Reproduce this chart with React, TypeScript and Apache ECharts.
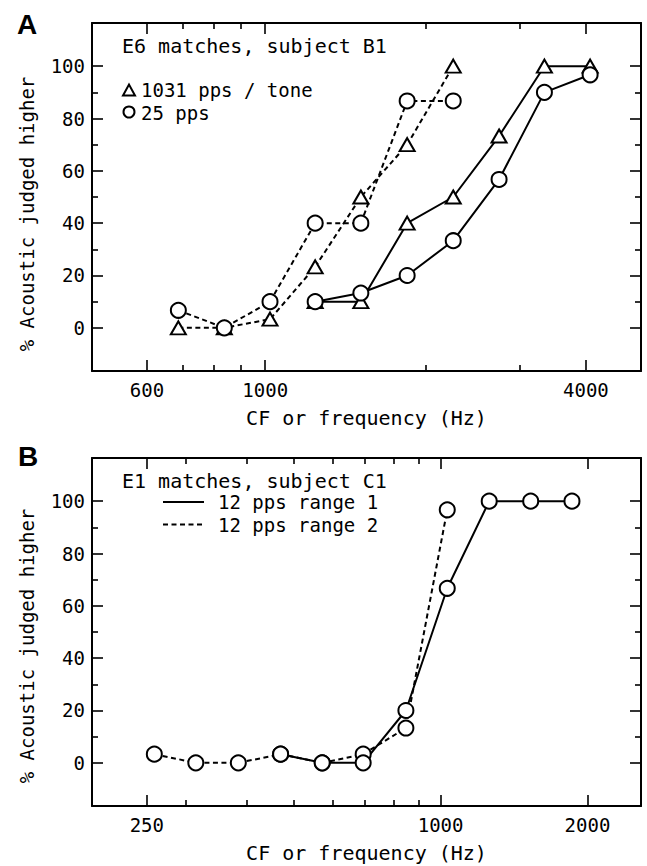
import React, { useEffect, useRef } from 'react';
import * as echarts from 'echarts';

// ---------- Panel A data (E6 matches, subject B1) ----------
const aDashedFreq = [687, 838, 1021, 1241, 1512, 1847, 2254];
const aTriDashedPct = [0, 0, 3.3, 23.3, 50, 70, 100];
const aCircDashedPct = [6.7, 0, 10, 40, 40, 86.7, 86.7];
const aSolidFreq = [1241, 1512, 1847, 2254, 2748, 3343, 4073];
const aTriSolidPct = [10, 10, 40, 50, 73.3, 100, 100];
const aCircSolidPct = [10, 13.3, 20, 33.3, 56.7, 90, 96.7];

// ---------- Panel B data (E1 matches, subject C1) ----------
const bRange1Freq = [470, 572, 694, 849, 1032, 1258, 1530, 1859];
const bRange1Pct = [3.3, 0, 0, 20, 66.7, 100, 100, 100];
const bRange2Freq = [259, 315, 385, 470, 572, 694, 849, 1032];
const bRange2Pct = [3.3, 0, 0, 3.3, 0, 3.3, 13.3, 96.7];

// ---------- Ticks ----------
const aMajorTicks = [600, 1000, 4000];
const aMinorTicks = [700, 800, 900, 2000, 3000];
const bMajorTicks = [250, 1000, 2000];
const bMinorTicks = [300, 400, 500, 600, 700, 800, 900];
const yMajorTicks = [0, 20, 40, 60, 80, 100];
const yMinorTicks = [10, 30, 50, 70, 90];

const aFreqRange = [473, 5075];
const bFreqRange = [193, 2575];
const yRange = [-16.5, 116.5];

const MONO = '"DejaVu Sans Mono", monospace';
const BLACK = '#000';

function xAxes(gridIndex: number, range: number[], major: number[], minor: number[]) {
  const min = Math.log10(range[0]);
  const max = Math.log10(range[1]);
  const base = { type: 'value', gridIndex, min, max, splitLine: { show: false } } as any;
  const res: any[] = [];
  (['bottom', 'top'] as const).forEach((pos) => {
    res.push({
      ...base,
      position: pos,
      axisLine: { show: true, onZero: false, lineStyle: { color: BLACK, width: 2 } },
      axisTick: { show: true, inside: true, length: 11, lineStyle: { color: BLACK, width: 1.6 }, customValues: major.map(Math.log10) },
      axisLabel: pos === 'bottom'
        ? { show: true, customValues: major.map(Math.log10), formatter: (v: number) => String(Math.round(Math.pow(10, v))), margin: 9, color: BLACK, fontFamily: MONO, fontSize: 19 }
        : { show: false },
      ...(pos === 'bottom'
        ? { name: 'CF or frequency (Hz)', nameLocation: 'middle', nameGap: 37, nameTextStyle: { color: BLACK, fontFamily: MONO, fontSize: 20 } }
        : {}),
    });
    res.push({
      ...base,
      position: pos,
      axisLine: { show: false, onZero: false },
      axisTick: { show: true, inside: true, length: 6, lineStyle: { color: BLACK, width: 1.6 }, customValues: minor.map(Math.log10) },
      axisLabel: { show: false },
    });
  });
  return res;
}

function yAxes(gridIndex: number) {
  const base = { type: 'value', gridIndex, min: yRange[0], max: yRange[1], splitLine: { show: false } } as any;
  const res: any[] = [];
  (['left', 'right'] as const).forEach((pos) => {
    res.push({
      ...base,
      position: pos,
      axisLine: { show: true, onZero: false, lineStyle: { color: BLACK, width: 2 } },
      axisTick: { show: true, inside: true, length: 11, lineStyle: { color: BLACK, width: 1.6 }, customValues: yMajorTicks },
      axisLabel: pos === 'left'
        ? { show: true, customValues: yMajorTicks, margin: 7, color: BLACK, fontFamily: MONO, fontSize: 19 }
        : { show: false },
    });
    res.push({
      ...base,
      position: pos,
      axisLine: { show: false, onZero: false },
      axisTick: { show: true, inside: true, length: 6, lineStyle: { color: BLACK, width: 1.6 }, customValues: yMinorTicks },
      axisLabel: { show: false },
    });
  });
  return res;
}

function lineSeries(xIdx: number, yIdx: number, freqs: number[], pcts: number[], symbol: string, dashed: boolean) {
  return {
    type: 'line',
    xAxisIndex: xIdx,
    yAxisIndex: yIdx,
    data: freqs.map((f, i) => [Math.log10(f), pcts[i]]),
    symbol,
    symbolSize: symbol === 'triangle' ? [15, 13] : 15,
    showSymbol: true,
    showAllSymbol: true,
    silent: true,
    lineStyle: { color: BLACK, width: 2, type: dashed ? [5, 3.5] : 'solid' },
    itemStyle: { color: '#fff', borderColor: BLACK, borderWidth: 2 },
    emphasis: { disabled: true },
  };
}

const textStyle = (text: string, size = 20, extra: any = {}) => ({
  text,
  font: `${size}px ${MONO}`,
  fill: BLACK,
  align: 'left',
  verticalAlign: 'middle',
  ...extra,
});

export default function App() {
  const ref = useRef<HTMLDivElement>(null);
  useEffect(() => {
    if (!ref.current) return;
    const chart = echarts.init(ref.current, undefined, { renderer: 'svg' });
    const xa = [...xAxes(0, aFreqRange, aMajorTicks, aMinorTicks), ...xAxes(1, bFreqRange, bMajorTicks, bMinorTicks)];
    const ya = [...yAxes(0), ...yAxes(1)];
    // x axis index 0 = panel A bottom, 4 = panel B bottom; y axis 0 = panel A left, 4 = panel B left
    chart.setOption({
      animation: false,
      backgroundColor: '#fff',
      grid: [
        { left: 92, top: 23, width: 549, height: 348, show: false },
        { left: 92, top: 458, width: 549, height: 348, show: false },
      ],
      xAxis: xa,
      yAxis: ya,
      series: [
        lineSeries(0, 0, aDashedFreq, aTriDashedPct, 'triangle', true),
        lineSeries(0, 0, aDashedFreq, aCircDashedPct, 'circle', true),
        lineSeries(0, 0, aSolidFreq, aTriSolidPct, 'triangle', false),
        lineSeries(0, 0, aSolidFreq, aCircSolidPct, 'circle', false),
        lineSeries(4, 4, bRange2Freq, bRange2Pct, 'circle', true),
        lineSeries(4, 4, bRange1Freq, bRange1Pct, 'circle', false),
      ],
      graphic: [
        { type: 'text', x: 27, y: 24, style: { text: 'A', font: 'bold 28px "Liberation Sans", Arial, sans-serif', fill: BLACK, align: 'center', verticalAlign: 'middle' } },
        { type: 'text', x: 28, y: 456, style: { text: 'B', font: 'bold 28px "Liberation Sans", Arial, sans-serif', fill: BLACK, align: 'center', verticalAlign: 'middle' } },
        { type: 'text', x: 27, y: 214, rotation: Math.PI / 2, style: textStyle('% Acoustic judged higher', 19, { align: 'center' }) },
        { type: 'text', x: 27, y: 646, rotation: Math.PI / 2, style: textStyle('% Acoustic judged higher', 19, { align: 'center' }) },
        // Legend A
        { type: 'text', x: 122, y: 46, style: textStyle('E6 matches, subject B1') },
        { type: 'polygon', shape: { points: [[123, 95.5], [135, 95.5], [129, 84.5]] }, style: { fill: '#fff', stroke: BLACK, lineWidth: 2 } },
        { type: 'text', x: 141, y: 90, style: textStyle('1031 pps / tone', 19) },
        { type: 'circle', shape: { cx: 129, cy: 112, r: 5.5 }, style: { fill: '#fff', stroke: BLACK, lineWidth: 2 } },
        { type: 'text', x: 141, y: 113, style: textStyle('25 pps', 19) },
        // Legend B
        { type: 'text', x: 122, y: 481, style: textStyle('E1 matches, subject C1') },
        { type: 'line', shape: { x1: 163, y1: 502, x2: 204, y2: 502 }, style: { stroke: BLACK, lineWidth: 2 } },
        { type: 'text', x: 218, y: 502, style: textStyle('12 pps range 1', 19) },
        { type: 'line', shape: { x1: 163, y1: 524.5, x2: 204, y2: 524.5 }, style: { stroke: BLACK, lineWidth: 2, lineDash: [5, 3.5] } },
        { type: 'text', x: 218, y: 525, style: textStyle('12 pps range 2', 19) },
      ],
    });
    return () => chart.dispose();
  }, []);
  return <div ref={ref} style={{ position: 'absolute', left: 0, top: 0, width: 647, height: 866, background: '#fff' }} />;
}
